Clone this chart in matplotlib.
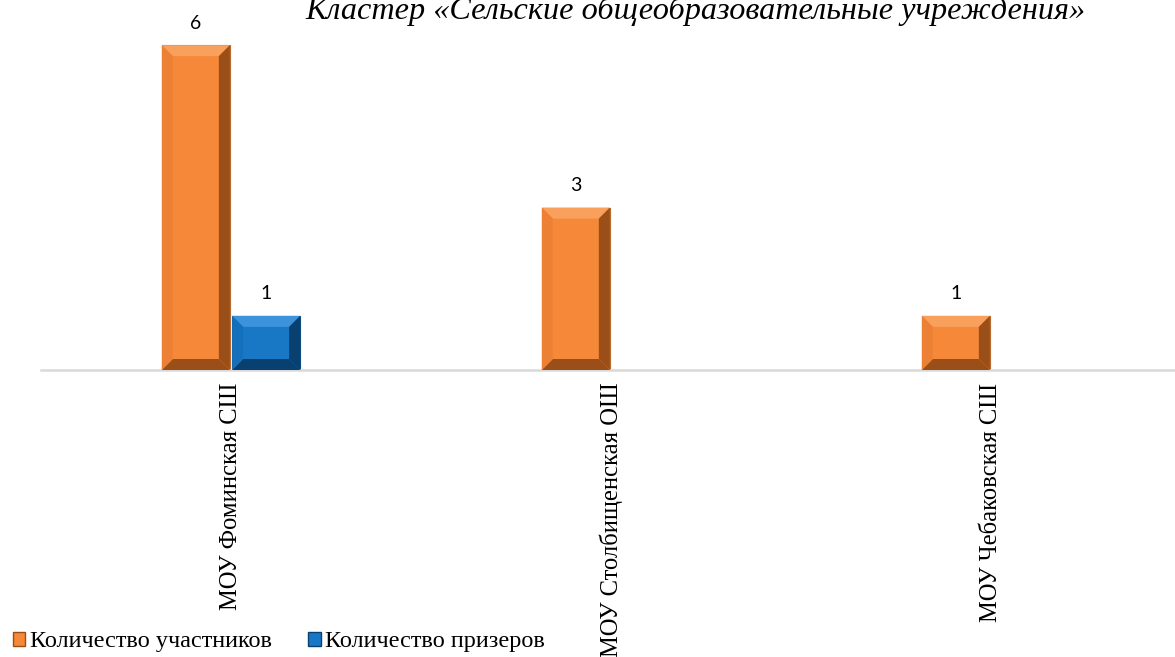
import matplotlib
matplotlib.use("Agg")
import matplotlib.pyplot as plt
from matplotlib.patches import Polygon, Patch

# data
categories = ["МОУ Фоминская СШ", "МОУ Столбищенская ОШ", "МОУ Чебаковская СШ"]
participants = [6, 3, 1]
winners = [1, None, None]
series_names = ["Количество участников", "Количество призеров"]
title = "Кластер «Сельские общеобразовательные учреждения»"

orange = {"base": "#F6883A", "light": "#F9A15C", "side": "#EC8034", "dark": "#9A4E18"}
blue = {"base": "#1878C6", "light": "#3C93DC", "side": "#1570BC", "dark": "#08406F"}

W, H = 1175, 657
fig = plt.figure(figsize=(W / 100, H / 100), dpi=100)
ax = fig.add_axes([41 / W, 287 / H, 1140 / W, 379 / H])
ax.set_xlim(-0.5, 2.5)
ax.set_ylim(0, 7)

bw = 0.179
gap = 0.003
xs = list(range(len(categories)))


def bevel(rect, col, b=11):
    inv = ax.transData.inverted()
    x0, y0 = ax.transData.transform((rect.get_x(), rect.get_y()))
    x1, y1 = ax.transData.transform((rect.get_x() + rect.get_width(),
                                     rect.get_y() + rect.get_height()))
    b = min(b, (x1 - x0) / 2 - 1, (y1 - y0) / 2 - 1)
    polys = [
        ([(x0, y1), (x1, y1), (x1 - b, y1 - b), (x0 + b, y1 - b)], col["light"]),
        ([(x0, y0), (x1, y0), (x1 - b, y0 + b), (x0 + b, y0 + b)], col["dark"]),
        ([(x0, y0), (x0 + b, y0 + b), (x0 + b, y1 - b), (x0, y1)], col["side"]),
        ([(x1, y0), (x1 - b, y0 + b), (x1 - b, y1 - b), (x1, y1)], col["dark"]),
    ]
    for pts, c in polys:
        ax.add_patch(Polygon(inv.transform(pts), closed=True, facecolor=c,
                             edgecolor="none", zorder=3))


bars1 = ax.bar([x - bw / 2 - gap for x in xs], participants, width=bw,
               color=orange["base"], edgecolor="#B86A2E", linewidth=0.8, zorder=2)
for r in bars1:
    bevel(r, orange)

wx = [x + bw / 2 + gap for x, v in zip(xs, winners) if v]
wv = [v for v in winners if v]
bars2 = ax.bar(wx, wv, width=bw, color=blue["base"], edgecolor="#0E4F86",
               linewidth=0.8, zorder=2)
for r in bars2:
    bevel(r, blue)

for r in list(bars1) + list(bars2):
    ax.text(r.get_x() + r.get_width() / 2, r.get_height() + 0.25,
            f"{int(r.get_height())}", ha="center", va="bottom",
            fontsize=14, family="Lato", color="#000000")

for s in ["top", "right", "left"]:
    ax.spines[s].set_visible(False)
ax.spines["bottom"].set_color("#D9D9D9")
ax.spines["bottom"].set_linewidth(1.8)
ax.set_yticks([])
ax.set_xticks(xs)
ax.set_xticklabels(categories, rotation=90, fontsize=17.7,
                   family="Liberation Serif", va="top")
ax.tick_params(axis="x", length=0, pad=9)

fig.text(695 / W, 1 - 19 / H, title, ha="center", va="baseline",
         fontsize=23.2, family="Liberation Serif", style="italic")

handles = [Patch(facecolor=orange["base"], edgecolor=orange["dark"]),
           Patch(facecolor=blue["base"], edgecolor=blue["dark"])]
fig.legend(handles, series_names, loc="center left",
           bbox_to_anchor=(13 / W, 15 / H),
           ncol=2, frameon=False, handlelength=0.5, handleheight=0.5,
           handletextpad=0.2, columnspacing=1.5, borderaxespad=0, borderpad=0,
           prop={"family": "Liberation Serif", "size": 17.5})

fig.savefig("out.png", dpi=100)
